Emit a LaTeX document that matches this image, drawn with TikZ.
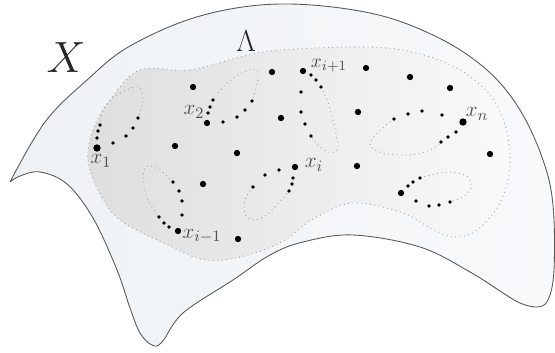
\documentclass[tikz,border=0pt]{standalone}
\usepackage{amsmath, amssymb}
\usepackage{xcolor}
\usepackage{tikz}
\usetikzlibrary{positioning}

\definecolor{spaceX}{HTML}{EEF2F5}
\definecolor{spaceXr}{HTML}{F8F9FB}

\begin{document}
\begin{tikzpicture}[x=0.02cm, y=-0.02cm,
    dot/.style = {circle, fill=black, inner sep=0pt, minimum size=2pt},
    bigdot/.style = {circle, fill=black, inner sep=0pt, minimum size=3.6pt},
    leaf/.style = {dotted, gray!75, line width=0.5pt},
    lab/.style = {text=black!70, font=\fontsize{13}{15}\selectfont}]
    \useasboundingbox (0,0) rectangle (555,352);

    % 空间 X
    \draw[black!65, line width=0.5pt, left color=spaceX, right color=spaceXr]
        plot[smooth, tension=0.6] coordinates {(10,182) (45,122) (87,80) (130,46) (200,16) (280,4) (370,13) (437,37) (487,70) (520,110) (543,160) (553,205) (554,270) (548,300) (537,307) (520,303) (503,293) (470,272) (420,247) (353,235) (303,242) (270,255) (233,280) (183,313) (162,342) (152,345) (140,333) (130,308) (117,270) (93,218) (67,184) (40,172) (20,176) (10,182)};

    % 区域 Lambda
    \draw[leaf, left color=black!13, right color=black!2]
        plot[smooth cycle, tension=0.6] coordinates {(140,70) (190,70) (240,57) (280,50) (370,47) (420,54) (460,70) (490,95) (505,125) (510,165) (500,203) (477,230) (457,237) (437,232) (403,213) (353,203) (315,218) (280,243) (240,257) (205,260) (170,246) (120,220) (98,190) (88,160) (93,130) (110,100)};

    % 点列的虚线边
    \draw[leaf] plot[smooth] coordinates {(100,125) (104,108) (120,93) (138,87) (143,100) (138,118)};
    \draw[leaf] plot[smooth] coordinates {(213,100) (225,85) (240,74) (255,69) (258,80) (252,101)};
    \draw[leaf] plot[smooth] coordinates {(321,87) (328,102) (334,125) (338,147) (332,153) (320,147) (311,136)};
    \draw[leaf] plot[smooth] coordinates {(394,119) (378,132) (370,145) (382,153) (410,155) (430,150) (441,142)};
    \draw[leaf] plot[smooth] coordinates {(420,178) (435,174) (452,172) (468,177) (471,188) (463,197) (450,202)};
    \draw[leaf] plot[smooth] coordinates {(173,182) (160,170) (147,166) (143,178) (147,198) (159,217)};
    \draw[leaf] plot[smooth] coordinates {(253,187) (245,200) (245,214) (253,220) (268,214) (289,191)};

    % 带标号的点
    \node[bigdot, minimum size=4.2pt] (x1) at (97,148) {};
    \node[bigdot] (x2) at (207,123) {};
    \node[bigdot] (xip) at (303,71) {};
    \node[bigdot, minimum size=4.2pt] (xn) at (463,122) {};
    \node[bigdot] (xb) at (401,193) {};
    \node[bigdot] (xim) at (178,231) {};
    \node[bigdot] (xi) at (295,167) {};

    % 点列
    \node[dot] (a1) at (97,138) {};
    \node[dot] (a2) at (98,131) {};
    \node[dot] (a3) at (100,125) {};
    \node[dot] (a4) at (113,143) {};
    \node[dot] (a5) at (126,136) {};
    \node[dot] (a6) at (133,128) {};
    \node[dot] (a7) at (138,118) {};
    \node[dot] (b1) at (208,113) {};
    \node[dot] (b2) at (210,107) {};
    \node[dot] (b3) at (213,100) {};
    \node[dot] (b4) at (223,122) {};
    \node[dot] (b5) at (237,117) {};
    \node[dot] (b6) at (245,110) {};
    \node[dot] (b7) at (252,101) {};
    \node[dot] (c1) at (311,75) {};
    \node[dot] (c2) at (316,80) {};
    \node[dot] (c3) at (321,87) {};
    \node[dot] (c4) at (301,92) {};
    \node[dot] (c5) at (301,112) {};
    \node[dot] (c6) at (305,124) {};
    \node[dot] (c7) at (311,136) {};
    \node[dot] (d1) at (442,115) {};
    \node[dot] (d2) at (422,111) {};
    \node[dot] (d3) at (408,114) {};
    \node[dot] (d4) at (394,119) {};
    \node[dot] (d5) at (456,132) {};
    \node[dot] (d6) at (448,137) {};
    \node[dot] (d7) at (441,142) {};
    \node[dot] (e1) at (408,186) {};
    \node[dot] (e2) at (413,182) {};
    \node[dot] (e3) at (420,178) {};
    \node[dot] (e4) at (416,201) {};
    \node[dot] (e5) at (429,206) {};
    \node[dot] (e6) at (439,205) {};
    \node[dot] (e7) at (450,202) {};
    \node[dot] (f1) at (169,227) {};
    \node[dot] (f2) at (164,223) {};
    \node[dot] (f3) at (159,217) {};
    \node[dot] (f4) at (182,215) {};
    \node[dot] (f5) at (182,201) {};
    \node[dot] (f6) at (179,191) {};
    \node[dot] (f7) at (173,182) {};
    \node[dot] (g1) at (279,170) {};
    \node[dot] (g2) at (265,175) {};
    \node[dot] (g3) at (253,187) {};
    \node[dot] (g4) at (293,178) {};
    \node[dot] (g5) at (292,184) {};
    \node[dot] (g6) at (289,191) {};

    % 孤立点
    \node[bigdot] (p1) at (193,87) {};
    \node[bigdot] (p2) at (175,146) {};
    \node[bigdot] (p3) at (237,153) {};
    \node[bigdot] (p4) at (272,72) {};
    \node[bigdot] (p5) at (281,118) {};
    \node[bigdot] (p6) at (203,184) {};
    \node[bigdot] (p7) at (238,239) {};
    \node[bigdot] (p8) at (366,68) {};
    \node[bigdot] (p9) at (358,112) {};
    \node[bigdot] (p10) at (357,166) {};
    \node[bigdot] (p11) at (410,77) {};
    \node[bigdot] (p12) at (450,88) {};
    \node[bigdot] (p13) at (490,154) {};

    % 标号
    \node[text=black!85, font=\fontsize{25}{30}\selectfont] (lX) at (66,58) {$X$};
    \node[text=black!85, font=\fontsize{18}{22}\selectfont] (lL) at (246,41) {$\Lambda$};
    \node[lab] (l1) at (101,161) {$x_1$};
    \node[lab] (l2) at (194,112) {$x_2$};
    \node[lab, font=\fontsize{11}{13}\selectfont] (lip) at (329,66) {$x_{i+1}$};
    \node[lab] (ln) at (477,114) {$x_n$};
    \node[lab] (li) at (314,165) {$x_i$};
    \node[lab] (lim) at (202,236) {$x_{i-1}$};
\end{tikzpicture}
\end{document}
